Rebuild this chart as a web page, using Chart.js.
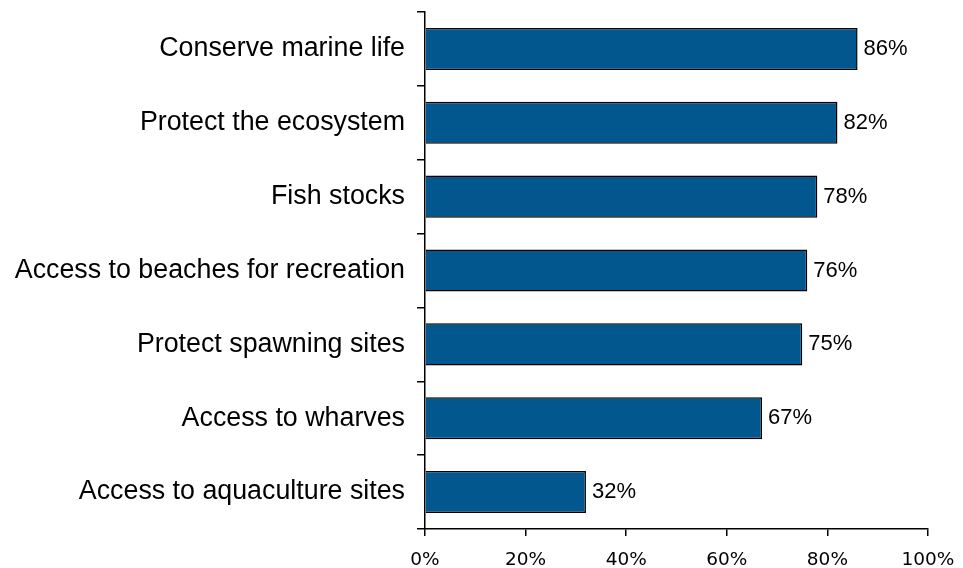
<!DOCTYPE html>
<html>
<head>
<meta charset="utf-8">
<script src="https://cdn.jsdelivr.net/npm/chart.js@4"></script>
<style>
  body { margin: 0; background: #fff; }
</style>
</head>
<body>
<canvas id="graphCanvas" width="963" height="568"></canvas>
<script>
var categories = ['Conserve marine life', 'Protect the ecosystem', 'Fish stocks',
    'Access to beaches for recreation', 'Protect spawning sites', 'Access to wharves',
    'Access to aquaculture sites'];
var values = [86, 82, 78, 76, 75, 67, 32];
var xTicks = [0, 20, 40, 60, 80, 100];

// writes the "86%" style labels just right of each bar
var valueLabels = {
    id: 'valueLabels',
    afterDatasetsDraw: function (chart) {
        var ctx = chart.ctx;
        var meta = chart.getDatasetMeta(0);
        ctx.save();
        ctx.font = '22px "Liberation Sans"';
        ctx.fillStyle = '#000';
        ctx.textAlign = 'left';
        ctx.textBaseline = 'middle';
        meta.data.forEach(function (bar, i) {
            ctx.fillText(values[i] + '%', bar.x + 6, bar.y);
        });
        ctx.restore();
    }
};

var chartdata = {
    labels: categories,
    datasets: [
        {
            data: values,
            backgroundColor: '#03578F',
            borderColor: '#000000',
            borderWidth: 1.5,
            barPercentage: 0.57,
            categoryPercentage: 1.0
        }
    ]
};

new Chart(document.getElementById('graphCanvas'), {
    type: 'bar',
    data: chartdata,
    plugins: [valueLabels],
    options: {
        indexAxis: 'y',
        responsive: false,
        animation: false,
        layout: { padding: { left: 0, right: 35, top: 12, bottom: 0 } },
        plugins: { legend: { display: false }, tooltip: { enabled: false } },
        scales: {
            x: {
                min: 0,
                max: 100,
                afterBuildTicks: function (axis) {
                    axis.ticks = xTicks.map(function (v) { return { value: v }; });
                },
                afterFit: function (axis) {
                    axis.height = 39;
                    axis.paddingLeft = 0;
                    axis.paddingRight = 0;
                },
                grid: { drawOnChartArea: false, drawTicks: true, tickLength: 7, color: '#000', lineWidth: 1.5 },
                border: { display: true, color: '#000', width: 1.5 },
                ticks: {
                    color: '#000',
                    font: { family: 'DejaVu Sans', size: 18.5 },
                    padding: 13,
                    maxRotation: 0,
                    callback: function (v) { return v + '%'; }
                }
            },
            y: {
                afterFit: function (axis) {
                    axis.width = 425;
                    axis.paddingTop = 0;
                    axis.paddingBottom = 0;
                },
                grid: { drawOnChartArea: false, drawTicks: true, tickLength: 8, color: '#000', lineWidth: 1.5, offset: true },
                border: { display: true, color: '#000', width: 1.5 },
                ticks: {
                    color: '#000',
                    font: { family: 'Liberation Sans', size: 26.8 },
                    padding: 12
                }
            }
        }
    }
});
</script>
</body>
</html>
